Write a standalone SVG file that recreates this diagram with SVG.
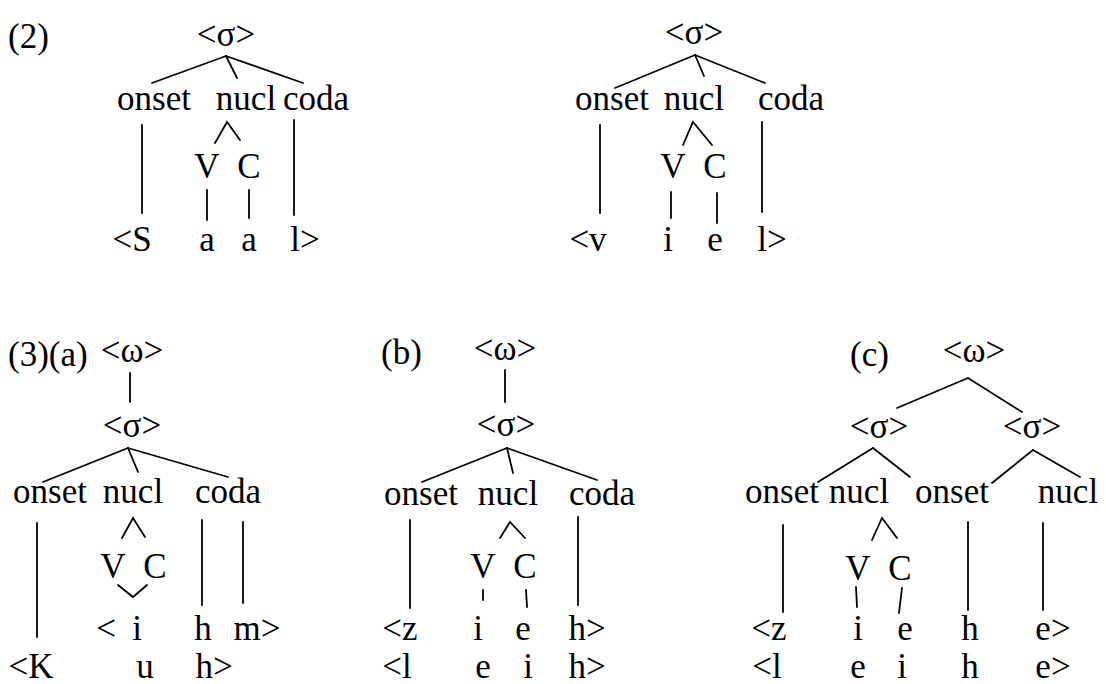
<svg xmlns="http://www.w3.org/2000/svg" width="1106" height="684" viewBox="0 0 1106 684">
<style>
text{font-family:"Liberation Serif","Times New Roman",serif;font-size:35px;fill:#000;text-anchor:middle}
text.l{text-anchor:start}
.e line,.e polyline{stroke:#000;stroke-width:1.8;fill:none;stroke-linecap:round}
</style>
<rect width="1106" height="684" fill="#fff"/>
<g id="labels">
<text class="l" x="8" y="48">(2)</text>
<text class="l" x="8" y="366">(3)(a)</text>
<text class="l" x="381" y="364">(b)</text>
<text class="l" x="850" y="366">(c)</text>
</g>
<g id="tree2a">
<text x="226" y="46">&lt;σ&gt;</text>
<text x="154" y="110">onset</text>
<text x="246" y="110">nucl</text>
<text x="316" y="110">coda</text>
<text x="207" y="178">V</text>
<text x="249" y="178">C</text>
<text x="132" y="251">&lt;S</text>
<text x="207" y="251">a</text>
<text x="249" y="251">a</text>
<text x="305" y="251">l&gt;</text>
</g>
<g id="tree2b">
<text x="694" y="44">&lt;σ&gt;</text>
<text x="612" y="110">onset</text>
<text x="694" y="110">nucl</text>
<text x="791" y="110">coda</text>
<text x="673" y="178">V</text>
<text x="715" y="178">C</text>
<text x="588" y="251">&lt;v</text>
<text x="668" y="251">i</text>
<text x="715" y="251">e</text>
<text x="772" y="251">l&gt;</text>
</g>
<g id="tree3a">
<text x="132" y="362">&lt;ω&gt;</text>
<text x="132" y="437">&lt;σ&gt;</text>
<text x="50" y="503">onset</text>
<text x="133" y="503">nucl</text>
<text x="228" y="503">coda</text>
<text x="113" y="578">V</text>
<text x="155" y="578">C</text>
<text x="106" y="640">&lt;</text>
<text x="137" y="640">i</text>
<text x="203" y="640">h</text>
<text x="257" y="640">m&gt;</text>
<text x="31" y="678">&lt;K</text>
<text x="145" y="678">u</text>
<text x="214" y="678">h&gt;</text>
</g>
<g id="tree3b">
<text x="505" y="360">&lt;ω&gt;</text>
<text x="506" y="436">&lt;σ&gt;</text>
<text x="421" y="505">onset</text>
<text x="508" y="505">nucl</text>
<text x="602" y="505">coda</text>
<text x="483" y="578">V</text>
<text x="525" y="578">C</text>
<text x="400" y="640">&lt;z</text>
<text x="478" y="640">i</text>
<text x="523" y="640">e</text>
<text x="587" y="640">h&gt;</text>
<text x="397" y="678">&lt;l</text>
<text x="483" y="678">e</text>
<text x="528" y="678">i</text>
<text x="587" y="678">h&gt;</text>
</g>
<g id="tree3c">
<text x="974" y="362">&lt;ω&gt;</text>
<text x="879" y="438">&lt;σ&gt;</text>
<text x="1032" y="438">&lt;σ&gt;</text>
<text x="782" y="503">onset</text>
<text x="859" y="503">nucl</text>
<text x="952" y="503">onset</text>
<text x="1068" y="503">nucl</text>
<text x="858" y="580">V</text>
<text x="900" y="580">C</text>
<text x="769" y="640">&lt;z</text>
<text x="858" y="640">i</text>
<text x="905" y="640">e</text>
<text x="970" y="640">h</text>
<text x="1053" y="640">e&gt;</text>
<text x="767" y="678">&lt;l</text>
<text x="858" y="678">e</text>
<text x="902" y="678">i</text>
<text x="970" y="678">h</text>
<text x="1053" y="678">e&gt;</text>
</g>
<g id="connectors" class="e">
<line x1="226" y1="56" x2="152" y2="83"/>
<line x1="226" y1="56" x2="237" y2="78"/>
<line x1="226" y1="56" x2="303" y2="83"/>
<line x1="142" y1="125" x2="142" y2="213"/>
<polyline points="215,143 227,122 240,140"/>
<line x1="294" y1="120" x2="294" y2="215"/>
<line x1="207" y1="190" x2="207" y2="220"/>
<line x1="249" y1="190" x2="249" y2="218"/>

<line x1="695" y1="55" x2="615" y2="88"/>
<line x1="695" y1="55" x2="704" y2="76"/>
<line x1="695" y1="55" x2="765" y2="83"/>
<line x1="600" y1="125" x2="600" y2="213"/>
<polyline points="683,145 693,122 712,145"/>
<line x1="762" y1="122" x2="762" y2="212"/>
<line x1="671" y1="192" x2="671" y2="218"/>
<line x1="717" y1="193" x2="717" y2="223"/>

<line x1="130" y1="373" x2="130" y2="402"/>
<line x1="128" y1="448" x2="43" y2="482"/>
<line x1="128" y1="448" x2="138" y2="472"/>
<line x1="128" y1="448" x2="228" y2="477"/>
<line x1="37" y1="523" x2="37" y2="637"/>
<polyline points="122,538 133,518 145,537"/>
<polyline points="118,585 133,597 147,585"/>
<line x1="202" y1="520" x2="202" y2="605"/>
<line x1="243" y1="522" x2="243" y2="603"/>

<line x1="505" y1="370" x2="505" y2="402"/>
<line x1="507" y1="448" x2="422" y2="482"/>
<line x1="507" y1="448" x2="513" y2="473"/>
<line x1="507" y1="448" x2="597" y2="480"/>
<line x1="410" y1="520" x2="410" y2="608"/>
<polyline points="500,538 510,522 525,538"/>
<line x1="578" y1="517" x2="578" y2="605"/>
<line x1="483" y1="590" x2="483" y2="600"/>
<line x1="526" y1="590" x2="527" y2="607"/>

<line x1="968" y1="378" x2="897" y2="408"/>
<line x1="968" y1="378" x2="1022" y2="412"/>
<line x1="873" y1="448" x2="818" y2="482"/>
<line x1="873" y1="448" x2="910" y2="477"/>
<line x1="1033" y1="450" x2="992" y2="483"/>
<line x1="1033" y1="450" x2="1080" y2="477"/>
<line x1="783" y1="525" x2="783" y2="612"/>
<polyline points="872,540 882,518 897,538"/>
<line x1="968" y1="522" x2="968" y2="610"/>
<line x1="1043" y1="523" x2="1043" y2="610"/>
<line x1="856" y1="587" x2="857" y2="607"/>
<line x1="902" y1="588" x2="899" y2="613"/>
</g>
</svg>
